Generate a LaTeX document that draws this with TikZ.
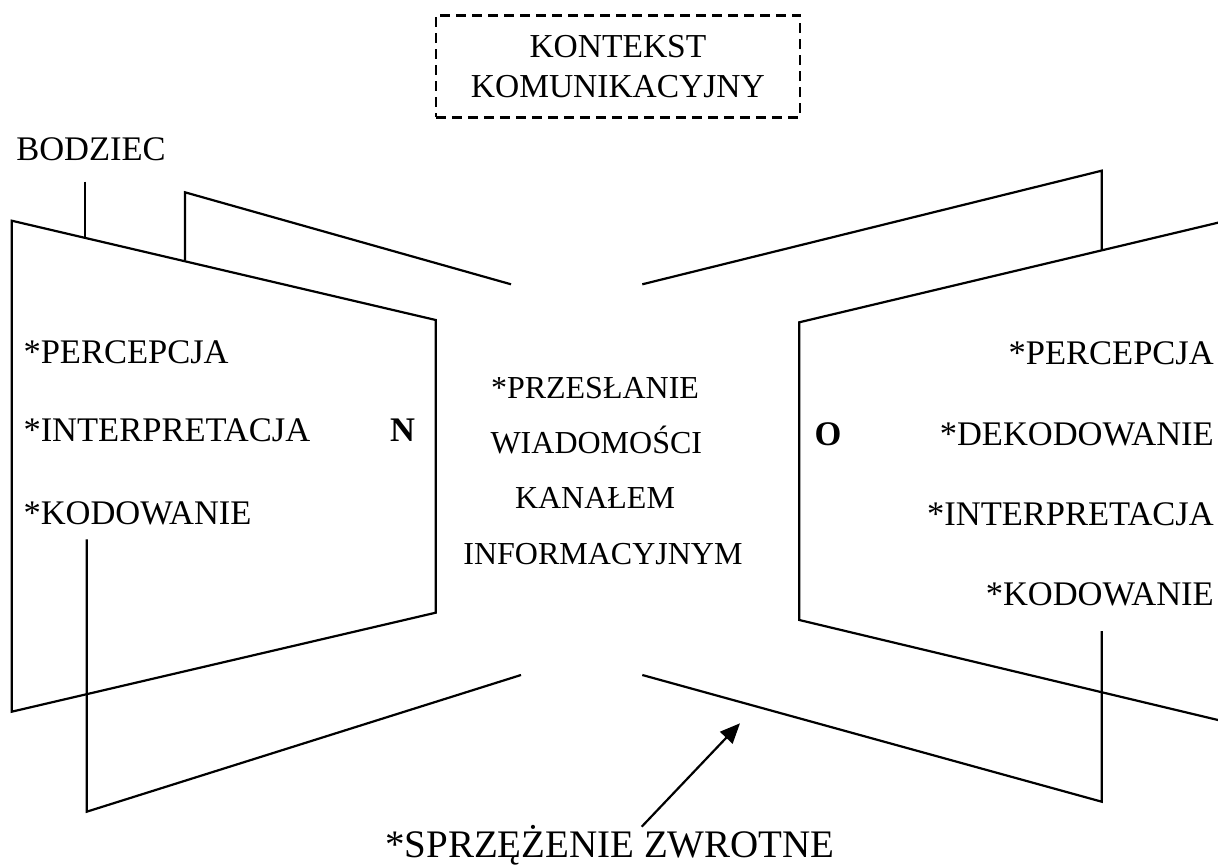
\documentclass[tikz,border=0pt]{standalone}
\usepackage{fontspec}
\setmainfont{Liberation Serif}
\usetikzlibrary{arrows.meta}
\begin{document}
\begin{tikzpicture}[x=1pt,y=-1pt,
  edge/.style={line width=2.2pt, line join=miter},
  lbl/.style={inner sep=0pt, font=\fontsize{34.5}{40}\selectfont},
  midlbl/.style={inner sep=0pt, font=\fontsize{32}{40}\selectfont},
  biglbl/.style={inner sep=0pt, font=\fontsize{39}{45}\selectfont},
  ctxbox/.style={draw, line width=2.8pt, dash pattern=on 10pt off 6pt,
    minimum width=364pt, minimum height=102pt, inner sep=0pt,
    align=center, font=\fontsize{33.5}{40}\selectfont},
  fbarrow/.style={line width=2.2pt, -{Triangle[length=20pt,width=17pt]}}]
\useasboundingbox (0,0) rectangle (1218,866);

% communication context
\node[ctxbox] (ctx) at (617.9,66.2) {KONTEKST\\KOMUNIKACYJNY};

% sender: front and back planes
\draw[edge] (11.7,220.7) -- (435.7,320) -- (435.7,612.7) -- (11.7,711.7) -- cycle;
\draw[edge] (185,260.7) -- (185,192.3) -- (511,284.3);
\draw[edge] (86.7,539.3) -- (86.7,811.7) -- (521,675);

% stimulus
\node[lbl, anchor=base] (stim) at (91,160.7) {BODZIEC};
\coordinate (stimtop) at (85,181.7);
\draw[edge] (stimtop) -- (85,238);

% receiver: front and back planes
\draw[edge] (1218,222.7) -- (799.3,322.3) -- (799.3,620) -- (1218,720);
\draw[edge] (642.3,284.3) -- (1101.7,170.7) -- (1101.7,250);
\draw[edge] (1101.7,631) -- (1101.7,801.7) -- (642.3,675);

% sender texts
\node[lbl, anchor=base west] (s1) at (23.3,364) {*PERCEPCJA};
\node[lbl, anchor=base west] (s2) at (23.3,441.7) {*INTERPRETACJA};
\node[lbl, anchor=base west] (s3) at (23.3,524) {*KODOWANIE};
\node[lbl, anchor=base, font=\fontsize{34.5}{40}\selectfont\bfseries] (N) at (402.5,441.7) {N};

% channel
\node[midlbl, anchor=base] (c1) at (595,398.3) {*PRZESŁANIE};
\node[midlbl, anchor=base] (c2) at (596.3,453.3) {WIADOMOŚCI};
\node[midlbl, anchor=base] (c3) at (595,508.3) {KANAŁEM};
\node[midlbl, anchor=base] (c4) at (603,564) {INFORMACYJNYM};

% receiver texts
\node[lbl, anchor=base, font=\fontsize{34.5}{40}\selectfont\bfseries] (O) at (828,445) {O};
\node[lbl, anchor=base east] (r1) at (1214,365) {*PERCEPCJA};
\node[lbl, anchor=base east] (r2) at (1214,445) {*DEKODOWANIE};
\node[lbl, anchor=base east] (r3) at (1214,525) {*INTERPRETACJA};
\node[lbl, anchor=base east] (r4) at (1214,605) {*KODOWANIE};

% feedback
\node[biglbl, anchor=base] (fb) at (610,857) {*SPRZĘŻENIE ZWROTNE};
\coordinate (fbtail) at (641.7,826.7);
\coordinate (fbtip) at (740,723.3);
\draw[fbarrow] (fbtail) -- (fbtip);
\end{tikzpicture}
\end{document}
